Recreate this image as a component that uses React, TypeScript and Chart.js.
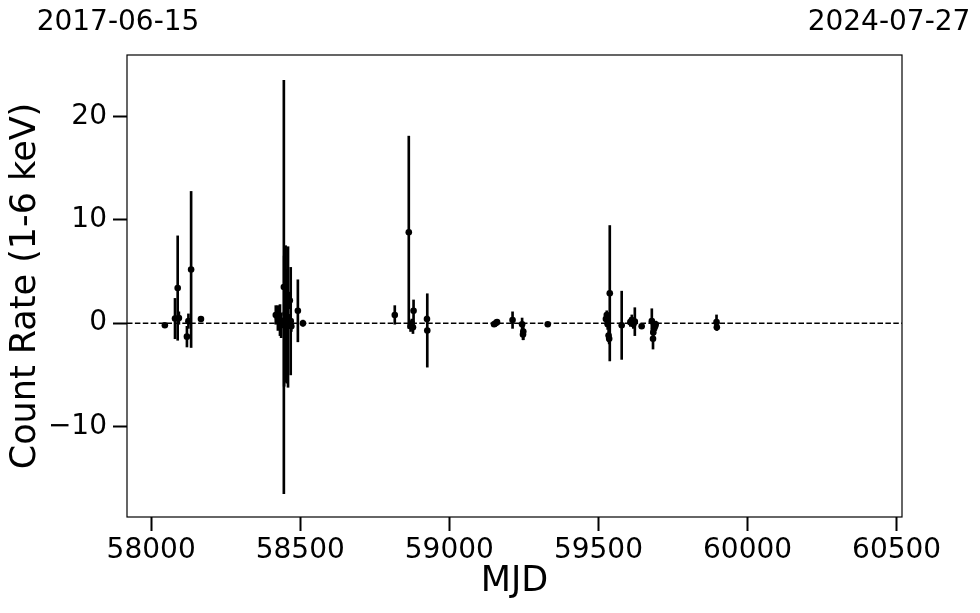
import React, { useEffect, useRef } from "react";
import { Chart, registerables } from "chart.js";

Chart.register(...registerables);

const FONT = '"DejaVu Sans", "Liberation Sans", sans-serif';

// Observations (MJD), count rate and symmetric 1-sigma error
const mjd = [
  58046, 58080, 58089, 58093, 58120, 58125, 58134, 58167,
  58418, 58425, 58432, 58436, 58445, 58446, 58451, 58455, 58459, 58465, 58468, 58470, 58492, 58509,
  58817, 58864, 58870, 58874, 58878, 58880, 58925, 58926,
  59150, 59155, 59160, 59212, 59244, 59247, 59248, 59330,
  59525, 59528, 59531, 59534, 59536, 59538, 59578, 59607, 59612, 59617, 59622, 59645,
  59679, 59683, 59684, 59687, 59690, 59692,
  59896, 59897,
];
const rate = [
  -0.2, 0.45, 3.4, 0.5, -1.3, 0.2, 5.2, 0.4,
  0.8, 0.5, 0.3, -0.2, 3.5, 0.2, 0.9, -0.3, 0.6, 2.2, 0.2, -0.3, 1.2, 0.0,
  0.8, 8.8, -0.3, 0.0, -0.4, 1.2, 0.4, -0.7,
  -0.1, 0.0, 0.1, 0.3, -0.1, -1.1, -0.8, -0.1,
  0.4, 0.8, -0.1, -1.2, -1.5, 2.9, -0.2, 0.1, 0.3, -0.1, 0.15, -0.3,
  0.2, -1.5, -0.9, -0.5, -0.3, -0.1,
  0.1, -0.4,
];
const rateErr = [
  0.2, 1.95, 5.05, 0.6, 1.0, 0.7, 7.55, 0.2,
  0.9, 1.2, 1.5, 1.2, 20.0, 6.3, 6.6, 5.5, 6.8, 0.8, 5.2, 0.5, 3.0, 0.3,
  0.9, 9.3, 0.5, 0.4, 0.6, 1.05, 0.3, 3.55,
  0.2, 0.3, 0.2, 0.8, 0.6, 0.5, 0.8, 0.1,
  0.5, 0.4, 0.5, 0.6, 0.5, 6.55, 3.3, 0.4, 0.5, 0.4, 1.35, 0.2,
  1.2, 1.0, 0.6, 0.4, 0.3, 0.3,
  0.7, 0.3,
];

const xMin = 57919; // 2017-06-15
const xMax = 60518; // 2024-07-27
const yMin = -18.75;
const yMax = 25.95;
const xTicks = [58000, 58500, 59000, 59500, 60000, 60500];
const yTicks = [-10, 0, 10, 20];
const startLabel = "2017-06-15";
const endLabel = "2024-07-27";
const xTitle = "MJD";
const yTitle = "Count Rate (1-6 keV)";

const fmt = (v: number) => (v < 0 ? "\u2212" + Math.abs(v) : String(v));

const decorPlugin = {
  id: "decor",
  afterDatasetsDraw(chart: any) {
    const { ctx, chartArea } = chart;
    ctx.save();
    ctx.strokeStyle = "#000";
    ctx.lineWidth = 1.2;
    ctx.strokeRect(chartArea.left, chartArea.top, chartArea.right - chartArea.left, chartArea.bottom - chartArea.top);
    ctx.restore();
  },
  afterDraw(chart: any) {
    const { ctx, chartArea } = chart;
    ctx.save();
    ctx.fillStyle = "#000";
    ctx.textAlign = "center";
    ctx.textBaseline = "middle";
    ctx.font = `28px ${FONT}`;
    ctx.fillText(startLabel, chartArea.left - 9, 23);
    ctx.fillText(endLabel, chartArea.right - 13, 23);
    ctx.font = `35px ${FONT}`;
    ctx.fillText(xTitle, (chartArea.left + chartArea.right) / 2, 582);
    ctx.translate(26, (chartArea.top + chartArea.bottom) / 2);
    ctx.rotate(-Math.PI / 2);
    ctx.fillText(yTitle, 0, 0);
    ctx.restore();
  },
};

export default function App() {
  const ref = useRef<HTMLCanvasElement>(null);
  useEffect(() => {
    document.body.style.margin = "0";
    const errBars = mjd.map((m, i) => ({ x: m, y: [rate[i] - rateErr[i], rate[i] + rateErr[i]] }));
    const pts = mjd.map((m, i) => ({ x: m, y: rate[i] }));
    const chart = new Chart(ref.current!, {
      type: "bar",
      data: {
        datasets: [
          {
            type: "line",
            data: [{ x: xMin, y: 0 }, { x: xMax, y: 0 }],
            borderColor: "#000",
            borderWidth: 1.6,
            borderDash: [5.5, 2.4],
            pointRadius: 0,
            order: 3,
          } as any,
          {
            type: "bar",
            data: errBars as any,
            backgroundColor: "#000",
            borderWidth: 0,
            barThickness: 2,
            order: 2,
          },
          {
            type: "scatter",
            data: pts,
            backgroundColor: "#000",
            borderWidth: 0,
            pointRadius: 3.3,
            order: 1,
          } as any,
        ],
      },
      options: {
        animation: false,
        responsive: false,
        devicePixelRatio: 1,
        layout: { padding: { top: 55, right: 78, bottom: 0, left: 0 } },
        plugins: { legend: { display: false }, tooltip: { enabled: false } },
        scales: {
          x: {
            type: "linear",
            min: xMin,
            max: xMax,
            offset: false,
            afterFit: (s: any) => { s.height = 96; },
            afterBuildTicks: (s: any) => { s.ticks = xTicks.map((v) => ({ value: v })); },
            grid: { display: true, offset: false, drawOnChartArea: false, drawTicks: true, tickLength: 14, tickWidth: 2, tickColor: "#000" },
            border: { display: false },
            ticks: { color: "#000", font: { family: FONT, size: 28 }, padding: 3, maxRotation: 0, autoSkip: false, callback: (v: any) => fmt(Number(v)) },
          },
          y: {
            type: "linear",
            min: yMin,
            max: yMax,
            afterFit: (s: any) => { s.width = 127; },
            afterBuildTicks: (s: any) => { s.ticks = yTicks.map((v) => ({ value: v })); },
            grid: { display: true, offset: false, drawOnChartArea: false, drawTicks: true, tickLength: 14, tickWidth: 2, tickColor: "#000" },
            border: { display: false },
            ticks: { color: "#000", font: { family: FONT, size: 28 }, padding: 6, autoSkip: false, callback: (v: any) => fmt(Number(v)) },
          },
        },
      },
      plugins: [decorPlugin],
    });
    return () => chart.destroy();
  }, []);
  return (
    <div style={{ position: "absolute", left: 0, top: 0, width: 980, height: 613, background: "#fff" }}>
      <canvas ref={ref} width={980} height={613} style={{ width: 980, height: 613 }} />
    </div>
  );
}
